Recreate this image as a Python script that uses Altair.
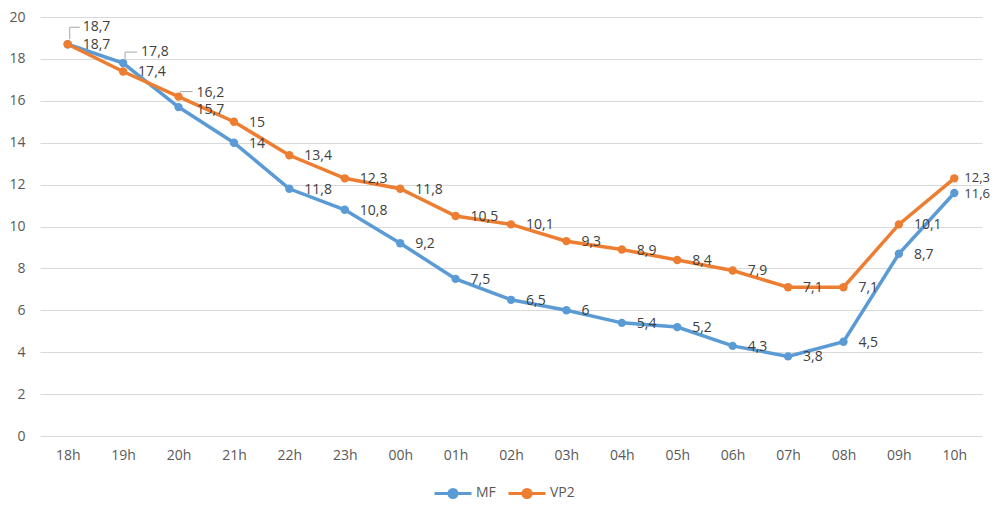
import altair as alt
import pandas as pd

hours = ["18h", "19h", "20h", "21h", "22h", "23h", "00h", "01h", "02h",
         "03h", "04h", "05h", "06h", "07h", "08h", "09h", "10h"]
mf = [18.7, 17.8, 15.7, 14, 11.8, 10.8, 9.2, 7.5, 6.5, 6, 5.4, 5.2, 4.3, 3.8, 4.5, 8.7, 11.6]
vp2 = [18.7, 17.4, 16.2, 15, 13.4, 12.3, 11.8, 10.5, 10.1, 9.3, 8.9, 8.4, 7.9, 7.1, 7.1, 10.1, 12.3]
series_names = ["MF", "VP2"]
colors = ["#5B9BD5", "#ED7D31"]

rows = []
for name, vals in zip(series_names, [mf, vp2]):
    for h, v in zip(hours, vals):
        rows.append({"serie": name, "heure": h, "valeur": v})
df = pd.DataFrame(rows)

FONT = "Open Sans"

x_enc = alt.X("heure:N", sort=hours, title=None,
              scale=alt.Scale(type="point", padding=0.5),
              axis=alt.Axis(labelAngle=0, ticks=False, domain=False, labelPadding=12,
                            labelColor="#595959", labelFontSize=14, labelFont=FONT))
y_enc = alt.Y("valeur:Q", title=None,
              scale=alt.Scale(domain=[0, 20], nice=False),
              axis=alt.Axis(values=list(range(0, 21, 2)), ticks=False, domain=False,
                            labelPadding=15, gridColor="#d9d9d9", gridWidth=1,
                            labelColor="#595959", labelFontSize=14, labelFont=FONT))
color_enc = alt.Color("serie:N", sort=series_names,
                      scale=alt.Scale(domain=series_names, range=colors),
                      legend=alt.Legend(title=None, orient="none", direction="horizontal",
                                        legendX=393, legendY=456))

base = alt.Chart(df).encode(x=x_enc, y=y_enc)

lines = base.mark_line(strokeWidth=3.5).encode(color=color_enc)
points = base.mark_circle(size=70, opacity=1).encode(color=color_enc)

label_base = base.transform_calculate(
    lab="replace(toString(datum.valeur), '.', ',')"
)

special = {
    ("VP2", "18h"): (15, -17, 14),
    ("MF", "19h"): (18, -11, 14),
    ("VP2", "20h"): (18, -4, 14),
    ("MF", "20h"): (18, 3, 14),
    ("VP2", "10h"): (10, 0, 13),
    ("MF", "10h"): (10, 1, 13),
}

cond = " && ".join(
    f"!(datum.serie == '{s}' && datum.heure == '{h}')" for (s, h) in special
)
text_kw = dict(align="left", baseline="middle", font=FONT, color="#404040")
labels = label_base.transform_filter(cond).mark_text(dx=15, dy=1, fontSize=14, **text_kw).encode(
    text="lab:N")
layers = [lines, points, labels]
for (s, h), (dx, dy, fs) in special.items():
    layers.append(
        label_base.transform_filter(f"datum.serie == '{s}' && datum.heure == '{h}'")
        .mark_text(dx=dx, dy=dy, fontSize=fs, **text_kw).encode(text="lab:N")
    )

# leader lines for the moved labels
leaders = [("VP2", "18h", 2, -5, -17, 10), ("MF", "19h", 2, -4, -11, 12), ("VP2", "20h", 2, -4, -5, 12)]
for s, h, xo, y1, y2, w in leaders:
    sel = base.transform_filter(f"datum.serie == '{s}' && datum.heure == '{h}'")
    layers.append(sel.mark_rule(color="#a6a6a6", strokeWidth=1, xOffset=xo, x2Offset=xo,
                                yOffset=y1, y2Offset=y2).encode(y2="valeur:Q"))
    layers.append(sel.mark_rule(color="#a6a6a6", strokeWidth=1, xOffset=xo, x2Offset=xo + w,
                                yOffset=y2, y2Offset=y2).encode(x2="heure:N"))

chart = alt.layer(*layers).properties(
    width=942, height=419,
    autosize=alt.AutoSizeParams(type="none"),
    padding={"left": 32, "top": 9, "right": 10, "bottom": 66},
).configure_view(stroke=None).configure_legend(
    symbolType="M-1,0L1,0M-0.22,0A0.22,0.22,0,1,1,0.22,0A0.22,0.22,0,1,1,-0.22,0Z",
    symbolSize=1369, symbolStrokeWidth=3, labelFontSize=14, labelFont=FONT,
    labelColor="#595959", columnPadding=6, labelOffset=3
)

chart.save("out.html", embed_options={"renderer": "svg", "actions": False})
